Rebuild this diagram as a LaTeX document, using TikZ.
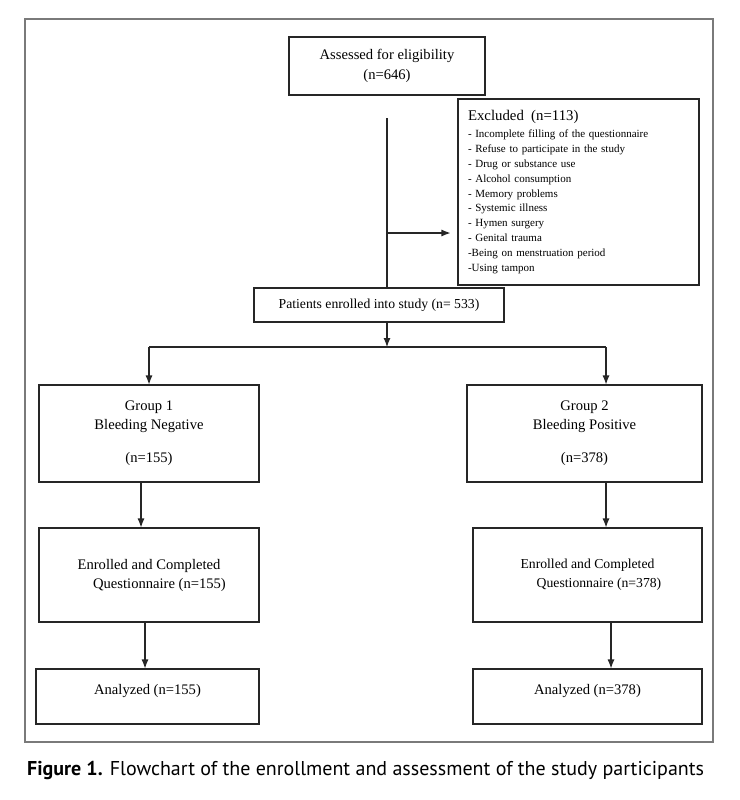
\documentclass[tikz,border=0pt]{standalone}
\usepackage{fontspec}
\setmainfont{Liberation Serif}
\newfontfamily\capfont{PT Sans}
\usetikzlibrary{arrows.meta,calc,positioning}
\definecolor{flowInk}{HTML}{262626}
\definecolor{flowFrame}{HTML}{7A7A7A}

\begin{document}
\begin{tikzpicture}[x=1pt,y=-1pt,>={Latex[length=9pt,width=7pt]},line join=miter]
\useasboundingbox[fill=white] (0,0) rectangle (739,800);
\tikzset{box/.style={draw=flowInk,line width=1.1pt,text=black,align=center,inner sep=0pt,font=\fontsize{14.6}{19}\selectfont},link/.style={draw=flowInk,line width=1.1pt},frame/.style={draw=flowFrame,line width=1.3pt}}
\draw[frame] (25,19) rectangle (713,742);
% screening
\node[box,minimum width=196,minimum height=58,font=\fontsize{14.6}{20}\selectfont] (assess) at (387,66) {Assessed for eligibility\\(n=646)};
\node[box,minimum width=241,minimum height=186,align=left,text width=221,font=\fontsize{11}{14.8}\selectfont] (excl) at (578.5,192) {{\fontsize{14.8}{17}\selectfont Excluded\ \ (n=113)}\\[2.2pt]
- Incomplete filling of the questionnaire\\- Refuse to participate in the study\\- Drug or substance use\\- Alcohol consumption\\- Memory problems\\- Systemic illness\\- Hymen surgery\\- Genital trauma\\-Being on menstruation period\\-Using tampon};
\node[box,minimum width=250,minimum height=34,font=\fontsize{13.7}{16}\selectfont] (enrol) at (379,305) {Patients enrolled into study (n= 533)};
% groups
\node[box,minimum width=220,minimum height=97] (grpA) at (149,433.5) {Group 1\\Bleeding Negative\\[14pt](n=155)};
\node[box,minimum width=235,minimum height=97] (grpB) at (584.5,433.5) {Group 2\\Bleeding Positive\\[14pt](n=378)};
\node[box,minimum width=220,minimum height=94] (doneA) at (149,575) {Enrolled and Completed\\\hspace*{21pt}Questionnaire (n=155)};
\node[box,minimum width=229,minimum height=94,font=\fontsize{13.7}{19}\selectfont] (doneB) at (587.5,575) {Enrolled and Completed\\\hspace*{23pt}Questionnaire (n=378)};
\node[box,minimum width=223,minimum height=55,text depth=14pt] (anaA) at (147.5,696.5) {Analyzed (n=155)};
\node[box,minimum width=229,minimum height=55,text depth=14pt] (anaB) at (587.5,696.5) {Analyzed (n=378)};
% connectors
\coordinate (vtop) at (387,118); \coordinate (vmid) at (387,233);
\coordinate (splitL) at (149,347); \coordinate (splitM) at (387,347); \coordinate (splitR) at (606,347);
\draw[link] (vtop) -- (vtop |- enrol.north);
\draw[link,->] (vmid) -- ($(excl.west |- vmid)+(-7,0)$);
\draw[link,->] (splitM |- enrol.south) -- (splitM);
\draw[link] (splitL) -- (splitR);
\draw[link,->] (splitL) -- (splitL |- grpA.north);
\draw[link,->] (splitR) -- (splitR |- grpB.north);
\draw[link,->] ([xshift=-8pt]grpA.south) -- ([xshift=-8pt]grpA.south |- doneA.north);
\draw[link,->] ([xshift=21.5pt]grpB.south) -- ([xshift=21.5pt]grpB.south |- doneB.north);
\draw[link,->] ([xshift=-4pt]doneA.south) -- ([xshift=-4pt]doneA.south |- anaA.north);
\draw[link,->] ([xshift=23.5pt]doneB.south) -- ([xshift=23.5pt]doneB.south |- anaB.north);
% caption
\node[anchor=base west,inner sep=0pt,font=\capfont\fontsize{20}{24}\selectfont] (caption) at (27,775) {\textbf{Figure 1.} Flowchart of the enrollment and assessment of the study participants};
\end{tikzpicture}
\end{document}
